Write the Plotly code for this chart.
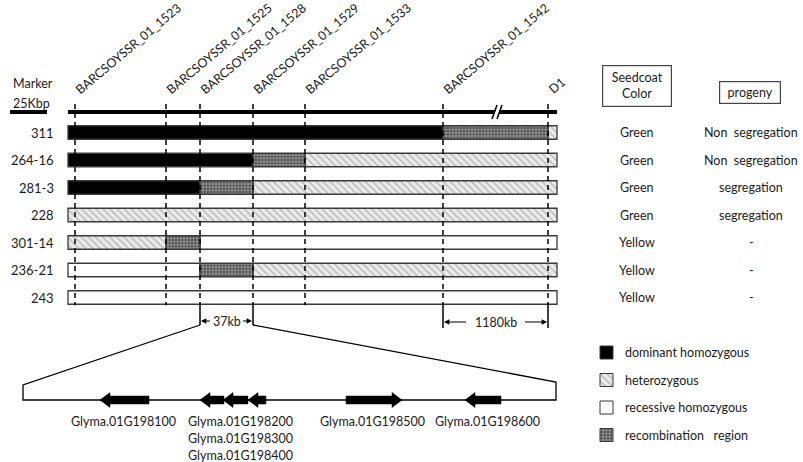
import plotly.graph_objects as go

# ---------------- data ----------------
markers = ["BARCSOYSSR_01_1523", "BARCSOYSSR_01_1525", "BARCSOYSSR_01_1528",
           "BARCSOYSSR_01_1529", "BARCSOYSSR_01_1533", "BARCSOYSSR_01_1542", "D1"]
marker_pos = [75, 166, 200, 253, 305, 443, 548]      # diagram position of each marker
chrom_span = [68, 557]                                # diagram extent of the region
lines = ["311", "264-16", "281-3", "228", "301-14", "236-21", "243"]
# genotype of each interval between consecutive breakpoints (start, markers..., end)
# D dominant homozygous, H heterozygous, W recessive homozygous, R recombination region
genotypes = ["DDDDDDRH", "DDDDRHHH", "DDDRHHHH", "HHHHHHHH",
             "HHRWWWWW", "WWWRHHHH", "WWWWWWWW"]
seedcoat = ["Green", "Green", "Green", "Green", "Yellow", "Yellow", "Yellow"]
progeny = ["Non\u00a0 segregation", "Non\u00a0 segregation", "segregation", "segregation", "-", "-", "-"]

genes = ["Glyma.01G198100", "Glyma.01G198200", "Glyma.01G198300",
         "Glyma.01G198400", "Glyma.01G198500", "Glyma.01G198600"]
gene_start = [100, 200, 223, 248, 346, 465]
gene_end = [149, 224, 248, 266, 402, 501]
gene_strand = ["-", "-", "-", "-", "+", "-"]

legend_codes = ["D", "H", "W", "R"]
legend_labels = ["dominant homozygous", "heterozygous", "recessive homozygous",
                 "recombination\u00a0\u00a0 region"]

# ---------------- styles / layout ----------------
FONT = "Lato"
TXT = "#1a1a1a"
FS = 12.5
styles = {
    "D": dict(color="black"),
    "H": dict(color="#e6e6e6", pattern=dict(shape="\\", fgcolor="#8c8c8c", bgcolor="#ebebeb",
                                             size=5, solidity=0.3)),
    "W": dict(color="white"),
    "R": dict(color="#222222", pattern=dict(shape=".", fgcolor="#ffffff", bgcolor="#222222",
                                             size=3.2, solidity=0.75)),
}
ROW0, PITCH, BARH = 132.5, 27.5, 13.5
CHROM_Y = 112
row_y = [ROW0 + i * PITCH for i in range(len(lines))]

fig = go.Figure()

# genotype bars
breaks = [chrom_span[0]] + marker_pos + [chrom_span[1]]
segs = {k: dict(base=[], length=[], y=[]) for k in styles}
for i, g in enumerate(genotypes):
    j = 0
    while j < len(g):
        k = j
        while k + 1 < len(g) and g[k + 1] == g[j]:
            k += 1
        s, e = breaks[j], breaks[k + 1]
        segs[g[j]]["base"].append(s)
        segs[g[j]]["length"].append(e - s)
        segs[g[j]]["y"].append(row_y[i])
        j = k + 1
for code, d in segs.items():
    if not d["y"]:
        continue
    fig.add_trace(go.Bar(orientation="h", base=d["base"], x=d["length"], y=d["y"],
                         width=BARH, marker=dict(**styles[code], line=dict(color="#3a3a3a", width=1.3)),
                         showlegend=False, hoverinfo="skip"))

# legend boxes (bars)
LEG_X, LEG_Y0, LEG_SZ = 600, 352.5, 13
for k, code in enumerate(legend_codes):
    fig.add_trace(go.Bar(orientation="h", base=[LEG_X], x=[LEG_SZ], y=[LEG_Y0 + k * PITCH],
                         width=LEG_SZ, marker=dict(**styles[code], line=dict(color="#3a3a3a", width=1)),
                         showlegend=False, hoverinfo="skip"))
    fig.add_annotation(x=LEG_X + 23, y=LEG_Y0 + k * PITCH, text=legend_labels[k], showarrow=False,
                       xanchor="left", yanchor="middle", font=dict(size=FS, color=TXT, family=FONT))

shapes = []
# chromosome line
shapes.append(dict(type="line", x0=chrom_span[0], x1=chrom_span[1], y0=CHROM_Y, y1=CHROM_Y,
                   line=dict(color="black", width=4)))
# break mark
shapes.append(dict(type="path", path="M 493 118 L 497 106 L 501 106 L 497 118 Z",
                   fillcolor="white", line=dict(width=0)))
shapes.append(dict(type="line", x0=492, x1=497, y0=119, y1=105, line=dict(color="black", width=1.5)))
shapes.append(dict(type="line", x0=497, x1=502, y0=119, y1=105, line=dict(color="black", width=1.5)))
# marker scale bar
shapes.append(dict(type="line", x0=10, x1=47, y0=CHROM_Y, y1=CHROM_Y, line=dict(color="black", width=4)))
# dashed marker lines
BOT = row_y[-1] + BARH / 2
for p in marker_pos:
    shapes.append(dict(type="line", x0=p, x1=p, y0=104, y1=BOT + 1,
                       line=dict(color="black", width=1.5, dash="5px,4px")))
# brackets
for p in (marker_pos[2], marker_pos[3]):
    shapes.append(dict(type="line", x0=p, x1=p, y0=BOT, y1=325, line=dict(color="black", width=1.5)))
for p in (marker_pos[5], marker_pos[6]):
    shapes.append(dict(type="line", x0=p, x1=p, y0=BOT, y1=328, line=dict(color="black", width=1.5)))
fig.update_layout(shapes=shapes)

# zoom trapezoid and gene axis
GENE_Y = 400
fig.add_trace(go.Scatter(x=[marker_pos[2], 23, 23, 556, 556, marker_pos[3]],
                         y=[325, 385, GENE_Y, GENE_Y, 382, 325], mode="lines",
                         line=dict(color="black", width=1.3), showlegend=False, hoverinfo="skip"))

# gene arrows
HEAD, BODY, HW = 10, 4, 7.5
for s, e, st in zip(gene_start, gene_end, gene_strand):
    if st == "-":
        xs = [s, s + HEAD, s + HEAD, e, e, s + HEAD, s + HEAD, s]
    else:
        xs = [e, e - HEAD, e - HEAD, s, s, e - HEAD, e - HEAD, e]
    ys = [GENE_Y, GENE_Y - HW, GENE_Y - BODY, GENE_Y - BODY, GENE_Y + BODY, GENE_Y + BODY,
          GENE_Y + HW, GENE_Y]
    fig.add_trace(go.Scatter(x=xs, y=ys, fill="toself", fillcolor="black", mode="lines",
                             line=dict(color="black", width=0.5), showlegend=False, hoverinfo="skip"))

# gene labels
lab_groups = [([0], 123), ([1, 2, 3], 240), ([4], 372), ([5], 487)]
for idxs, lx in lab_groups:
    for n, gi in enumerate(idxs):
        fig.add_annotation(x=lx, y=421 + n * 17, text=genes[gi], showarrow=False,
                           xanchor="center", yanchor="middle", font=dict(size=FS, color=TXT, family=FONT))

# marker labels (rotated)
for name, p in zip(markers, marker_pos):
    fig.add_annotation(x=p - 5, y=100, text=name, textangle=-40, showarrow=False,
                       xanchor="left", yanchor="bottom", font=dict(size=FS, color=TXT, family=FONT))

# row labels, seedcoat, progeny
for i, ln in enumerate(lines):
    fig.add_annotation(x=56, y=row_y[i], text=ln, showarrow=False, xanchor="right", yanchor="middle",
                       font=dict(size=13, color=TXT, family=FONT))
    fig.add_annotation(x=637, y=row_y[i], text=seedcoat[i], showarrow=False, xanchor="center",
                       yanchor="middle", font=dict(size=FS, color=TXT, family=FONT))
    fig.add_annotation(x=751, y=row_y[i], text=progeny[i], showarrow=False, xanchor="center",
                       yanchor="middle", font=dict(size=FS, color=TXT, family=FONT))

# header boxes
fig.add_annotation(x=637, y=86, text="Seedcoat<br>Color", showarrow=False, xanchor="center",
                   yanchor="middle", font=dict(size=FS, color=TXT, family=FONT),
                   bordercolor="#444", borderwidth=1.2, borderpad=4, width=60)
fig.add_annotation(x=750, y=92, text="progeny", showarrow=False, xanchor="center",
                   yanchor="middle", font=dict(size=FS, color=TXT, family=FONT),
                   bordercolor="#444", borderwidth=1.2, borderpad=3, width=54)

# Marker / scale text
fig.add_annotation(x=11, y=83, text="Marker", showarrow=False, xanchor="left", yanchor="middle",
                   font=dict(size=FS, color=TXT, family=FONT))
fig.add_annotation(x=11, y=103, text="25Kbp", showarrow=False, xanchor="left", yanchor="middle",
                   font=dict(size=FS, color=TXT, family=FONT))

# distance brackets
def bracket(x0, x1, txt, y, gap):
    mid = (x0 + x1) / 2
    fig.add_annotation(x=mid, y=y, text=txt, showarrow=False, xanchor="center", yanchor="middle",
                       font=dict(size=FS, color=TXT, family=FONT))
    for tip, tail in ((x0 + 1, mid - gap), (x1 - 1, mid + gap)):
        fig.add_annotation(x=tip, y=y, ax=tail, ay=y, axref="x", ayref="y", xref="x", yref="y",
                           text="", showarrow=True, arrowhead=2, arrowsize=0.9, arrowwidth=1.2,
                           arrowcolor="black")

bracket(marker_pos[2], marker_pos[3], "37kb", 321, 15)
bracket(marker_pos[5], marker_pos[6], "1180kb", 322, 28)

fig.update_layout(
    width=803, height=462, margin=dict(l=0, r=0, t=0, b=0),
    paper_bgcolor="white", plot_bgcolor="white", barmode="overlay",
    xaxis=dict(range=[0, 803], visible=False, fixedrange=True),
    yaxis=dict(range=[462, 0], visible=False, fixedrange=True),
    showlegend=False,
)
fig.write_html("out.html", config={"displayModeBar": False},
               post_script="document.body.style.margin='0';document.body.style.overflow='hidden';")
